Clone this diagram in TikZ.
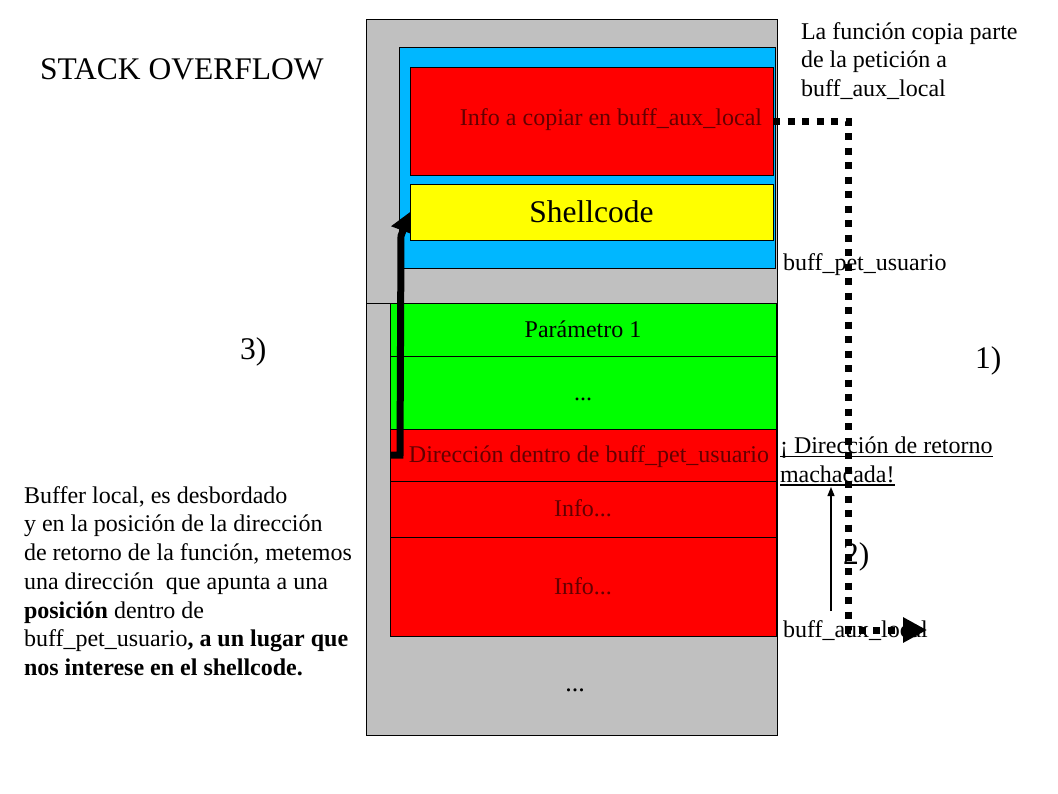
\documentclass[tikz,border=0pt]{standalone}
\usepackage{fontspec}
\setmainfont{Liberation Serif}
\usetikzlibrary{arrows.meta}
\pgfdeclarelayer{front}
\pgfsetlayers{main,front}
\definecolor{stackgray}{RGB}{192,192,192}
\definecolor{bufblue}{RGB}{0,183,255}
\definecolor{cellgreen}{RGB}{0,255,0}
\definecolor{cellred}{RGB}{255,0,0}
\definecolor{cellyellow}{RGB}{255,255,0}
\definecolor{redtext}{RGB}{100,0,0}
\newcommand\myul[1]{\setbox0\hbox{#1}\rlap{\rule[-4pt]{\wd0}{1.6pt}}\box0}
\begin{document}
\begin{tikzpicture}[x=1pt,y=-1pt,
  box/.style={draw=black, line width=0.9pt, inner sep=0pt, outer sep=0pt},
  cell/.style={box, text height=17pt, text depth=2pt, font=\fontsize{24}{28.75}\selectfont},
  lbl/.style={inner sep=0pt, outer sep=0pt, font=\fontsize{24}{28.75}\selectfont, align=left},
  big/.style={inner sep=0pt, outer sep=0pt, font=\fontsize{31.5}{36}\selectfont},
  dotconn/.style={line width=7pt, dash pattern=on 7pt off 7.5pt, -{Triangle[length=24pt,width=24pt]}},
  bigarrow/.style={line width=7pt, line join=miter, -{Triangle[length=20pt,width=24pt]}},
  thinarrow/.style={line width=1.3pt, -{Triangle[length=9pt,width=7pt]}}]
\useasboundingbox (0,0) rectangle (1058,793);
\fill[white] (0,0) rectangle (1058,793);

% stack frame
\node[box, fill=stackgray, minimum width=411pt, minimum height=716pt] (stack) at (571.5,377) {};
\draw[line width=0.9pt] (stack.west |- 0,303) -- (stack.east |- 0,303);

% buff_pet_usuario area
\node[box, fill=bufblue, minimum width=376pt, minimum height=221pt] (pet) at (587,157.5) {};

% lower cells
\node[cell, fill=cellgreen, minimum width=386pt, minimum height=53pt] (param) at (583,329.5) {Parámetro 1};
\node[cell, fill=cellgreen, minimum width=386pt, minimum height=73pt] (dotsA) at (583,392.5) {...};
\node[box, fill=cellred, minimum width=386pt, minimum height=52pt] (dir) at (583,455) {};
\node[lbl, text=redtext, anchor=base] (dirtxt) at (589,462) {Dirección dentro de buff\_pet\_usuario};
\node[cell, fill=cellred, text=redtext, minimum width=386pt, minimum height=56pt] (infoA) at (583,509) {Info...};
\node[cell, fill=cellred, text=redtext, minimum width=386pt, minimum height=99pt] (infoB) at (583,586.5) {Info...};
\node[lbl, anchor=base, font=\fontsize{26}{30}\selectfont] (dotsB) at (575,691) {...};

% top cells (front layer)
\begin{pgfonlayer}{front}
\node[box, fill=cellred, minimum width=363pt, minimum height=108pt] (info) at (591.5,121) {};
\node[lbl, text=redtext, anchor=base] (infotxt) at (611,125) {Info a copiar en buff\_aux\_local};
\node[box, big, fill=cellyellow, minimum width=363pt, minimum height=56pt] (shell) at (591.5,212) {Shellcode};
\end{pgfonlayer}

% return address arrow
\draw[bigarrow] (dir.west) -- (400,455) -- (401,236) -- (shell.west);

% labels
\node[big, anchor=base west] (title) at (40,79) {STACK OVERFLOW};
\node[big, anchor=base west] (stepA) at (975,368) {1)};
\node[big, anchor=base west] (stepB) at (843,564) {2)};
\node[big, anchor=base west] (stepC) at (240,359) {3)};
\node[lbl, anchor=base west] (note) at (801,96.5) {La función copia parte\\de la petición a\\buff\_aux\_local};
\node[lbl, anchor=base west] (petlbl) at (783,270) {buff\_pet\_usuario};
\node[lbl, anchor=base west] (ret) at (780,482) {\myul{¡ Dirección de retorno}\\\myul{machacada!}};
\node[lbl, anchor=base west] (auxlbl) at (783,637) {buff\_aux\_local};
\node[lbl, anchor=base west] (expl) at (24,675.5) {Buffer local, es desbordado\\y en la posición de la dirección\\de retorno de la función, metemos\\una dirección\ \ que apunta a una\\\textbf{posición} dentro de\\buff\_pet\_usuario\textbf{, a un lugar que}\\\textbf{nos interese en el shellcode.}};

% copy connector
\coordinate (auxend) at (927,630);
\draw[dotconn] (info.east) -- (848,121) -- (848,630) -- (auxend);

% thin arrow
\coordinate (thinA) at (831,611);
\coordinate (thinB) at (831,487);
\draw[thinarrow] (thinA) -- (thinB);
\end{tikzpicture}
\end{document}
